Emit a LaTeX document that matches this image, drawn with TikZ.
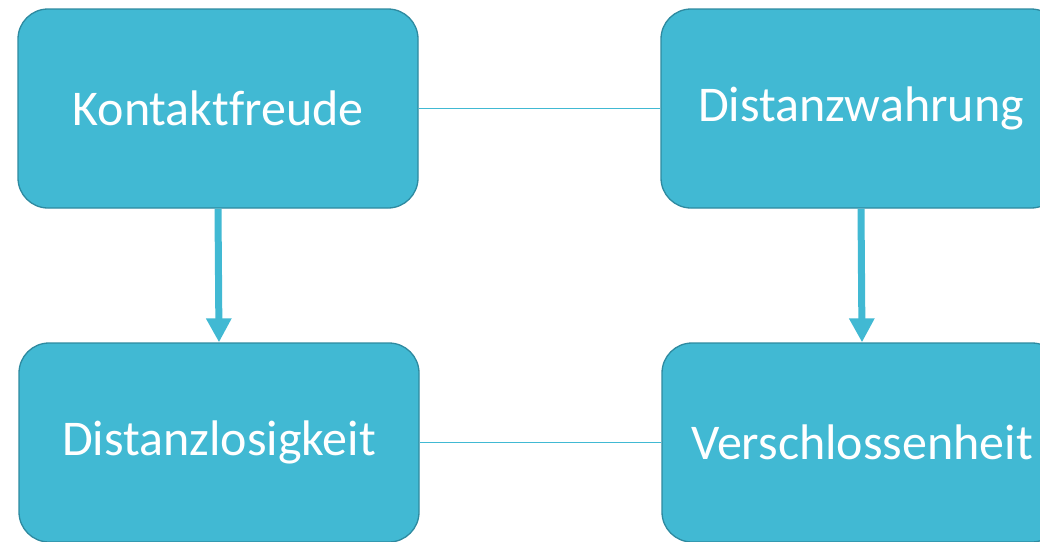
\documentclass[tikz,border=0pt]{standalone}
\usepackage{fontspec}
\usetikzlibrary{arrows.meta}
\setmainfont{Carlito}[Ligatures=NoCommon]
\definecolor{boxfill}{RGB}{65,185,211}
\definecolor{boxline}{RGB}{46,138,160}
\begin{document}
\begin{tikzpicture}[x=1pt,y=-1pt,
  box/.style={draw=boxline,line width=1.3pt,fill=boxfill,rounded corners=30pt,
    minimum width=400pt,minimum height=199pt,text=white,font=\fontsize{50}{60}\selectfont,inner sep=0pt},
  link/.style={draw=boxfill,line width=1.5pt},
  flow/.style={draw=boxfill,line width=7pt,-{Triangle[width=24pt,length=24pt]}}]
\useasboundingbox (0,0) rectangle (1040,541);
\clip (0,0) rectangle (1040,541);
\node[box] (a) at (218,108.5) {Kontaktfreude};
\node[box] (b) at (861,108.5) {Distanzwahrung};
\node[box] (c) at (219,442.5) {Distanzlosigkeit};
\node[box] (d) at (862,442.5) {Verschlossenheit};
\draw[link] (a.east) -- (b.west);
\draw[link] (c.east) -- (d.west);
\draw[flow] (a.south) -- (c.north);
\draw[flow] (b.south) -- (d.north);
\end{tikzpicture}
\end{document}
